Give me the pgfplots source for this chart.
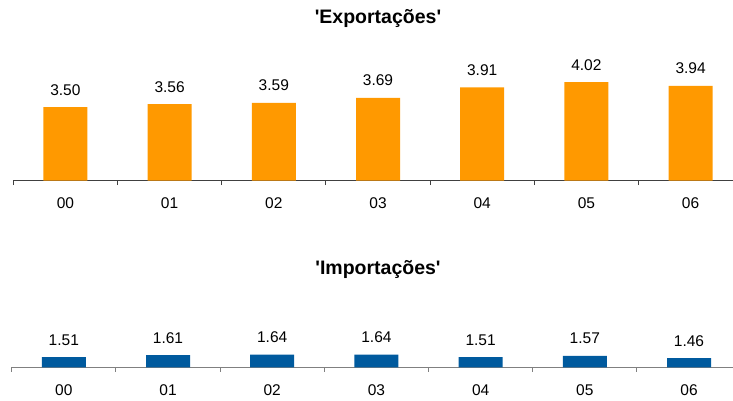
\documentclass[border=0pt]{standalone}
\usepackage{fontspec}
\setmainfont{Liberation Sans}
\usepackage{pgfplots}
\pgfplotsset{compat=1.18}
\definecolor{expo}{RGB}{255,153,0}
\definecolor{impo}{RGB}{0,90,158}

\pgfplotsset{
  barpanel/.style={
    scale only axis, ybar, bar width=44pt, bar shift=0pt,
    xmin=-0.5,
    axis x line=bottom, axis y line=none,
    x axis line style={-, line width=1.2pt},
    ytick=\empty,
    xtick={0,...,6}, xticklabels={00,01,02,03,04,05,06},
    major tick length=0pt,
    minor xtick={-0.5,0.5,...,5.5}, minor tick length=4.5pt,
    xtick align=outside,
    minor tick style={line width=1pt},
    xticklabel style={font=\fontsize{15.5}{18}\selectfont, anchor=base, yshift=-28pt},
    point meta=explicit symbolic, nodes near coords,
    every node near coord/.append style={font=\fontsize{15.5}{18}\selectfont, anchor=base, yshift=12pt, text=black},
  },
}

\begin{document}
\begin{tikzpicture}
\useasboundingbox (0,0) rectangle (733pt,400pt);

% Exportações
\begin{axis}[barpanel,
  at={(13.3pt,219.3pt)}, anchor=south west,
  width=719.7pt, height=145.7pt,
  xmax=6.407, ymin=1.97, ymax=5,
  x axis line style={draw=black!75}, minor tick style={draw=black!75}]
\addplot[draw=none, fill=expo] coordinates {
  (0,3.50) [3.50] (1,3.56) [3.56] (2,3.59) [3.59] (3,3.69) [3.69]
  (4,3.91) [3.91] (5,4.02) [4.02] (6,3.94) [3.94]
};
\end{axis}

% Importações
\begin{axis}[barpanel,
  at={(11.7pt,32.7pt)}, anchor=south west,
  width=721.3pt, height=40pt,
  xmax=6.422, ymin=1, ymax=3,
  x axis line style={draw=black!50}, minor tick style={draw=black!50}]
\addplot[draw=none, fill=impo] coordinates {
  (0,1.51) [1.51] (1,1.61) [1.61] (2,1.64) [1.64] (3,1.64) [1.64]
  (4,1.51) [1.51] (5,1.57) [1.57] (6,1.46) [1.46]
};
\end{axis}

\node[font=\bfseries\fontsize{19.5}{22}\selectfont, anchor=base] at (378pt,376pt) {\textquotesingle Exportações\textquotesingle};
\node[font=\bfseries\fontsize{19.5}{22}\selectfont, anchor=base] at (378pt,126pt) {\textquotesingle Importações\textquotesingle};
\end{tikzpicture}
\end{document}
